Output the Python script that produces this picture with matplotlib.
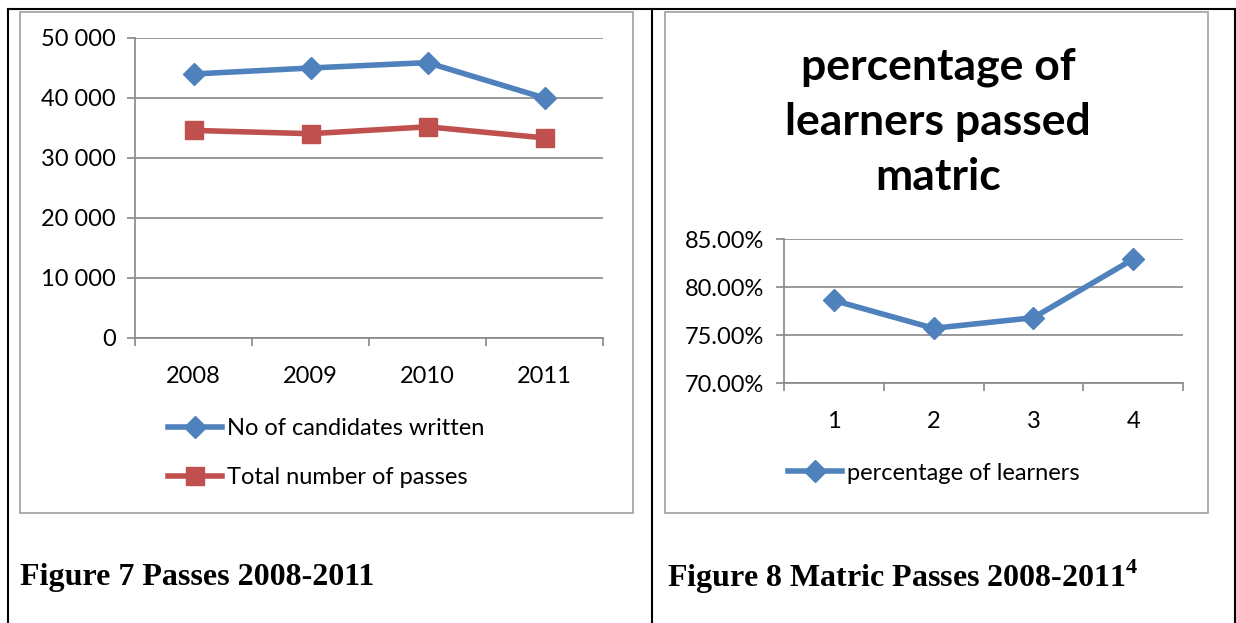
import numpy as np
import matplotlib
matplotlib.use("Agg")
import matplotlib.pyplot as plt
from matplotlib.patches import Rectangle
from matplotlib.lines import Line2D

# data
years = ["2008", "2009", "2010", "2011"]
written = [44000, 45000, 45900, 40000]
passes = [34600, 34050, 35200, 33350]

pct_labels = ["1", "2", "3", "4"]
pct_passed = [78.6, 75.7, 76.8, 82.9]

blue = "#4F81BD"
red = "#C0504D"
grey = "#878787"

W, H = 1236, 623
fig = plt.figure(figsize=(W / 100, H / 100), dpi=100)
plt.rcParams['font.family'] = ['Lato', 'DejaVu Sans']
plt.rcParams['mathtext.fontset'] = 'custom'
plt.rcParams['mathtext.bf'] = 'Liberation Serif:bold'
plt.rcParams['mathtext.rm'] = 'Liberation Serif'


def box(x0, y0, x1, y1):
    # pixel box (top-left origin) -> figure fraction
    return [x0 / W, 1 - y1 / H, (x1 - x0) / W, (y1 - y0) / H]


def fx(x):
    return x / W


def fy(y):
    return 1 - y / H


# table lines
for xs, ys in [([8, 1236], [9, 9]), ([8, 8], [9, 623]), ([652, 652], [9, 623]),
               ([1235, 1235], [9, 623])]:
    fig.add_artist(Line2D([fx(v) for v in xs], [fy(v) for v in ys], color="black", lw=1.5))

# chart frames
for x0, y0, x1, y1 in [(20, 12, 633, 513), (665, 12, 1208, 513)]:
    b = box(x0, y0, x1, y1)
    fig.add_artist(Rectangle((b[0], b[1]), b[2], b[3], transform=fig.transFigure,
                             fill=False, edgecolor="#A0A0A0", lw=1.2))


def style_axes(ax, fs, xpad):
    for s in ["top", "right"]:
        ax.spines[s].set_visible(False)
    for s in ["left", "bottom"]:
        ax.spines[s].set_color(grey)
        ax.spines[s].set_linewidth(1.2)
    ax.grid(axis="y", color=grey, lw=1.2)
    ax.set_axisbelow(True)
    ax.set_xlim(0.5, 4.5)
    ax.set_xticks([1, 2, 3, 4])
    ax.set_xticks([0.5, 1.5, 2.5, 3.5, 4.5], minor=True)
    ax.tick_params(axis="x", which="major", length=0, labelsize=fs, pad=xpad)
    ax.tick_params(axis="x", which="minor", length=6, color=grey, width=1.2)
    ax.tick_params(axis="y", length=6, color=grey, width=1.2, labelsize=fs, pad=8)


# left chart
ax1 = fig.add_axes(box(135, 38, 603, 338))
x = np.arange(1, 5)
l1, = ax1.plot(x, written, color=blue, lw=4, marker="D", ms=11, label="No of candidates written")
l2, = ax1.plot(x, passes, color=red, lw=4, marker="s", ms=13, label="Total number of passes")
ax1.set_ylim(0, 50000)
ax1.set_yticks([0, 10000, 20000, 30000, 40000, 50000])
ax1.set_yticklabels(["0", "10 000", "20 000", "30 000", "40 000", "50 000"])
ax1.set_xticklabels(years)
style_axes(ax1, 17, 20)

fig.legend(handles=[l1, l2], loc="center left", bbox_to_anchor=(fx(168), fy(453)),
           frameon=False, fontsize=17, handlelength=2.3, handletextpad=0.2,
           labelspacing=1.2, borderaxespad=0, borderpad=0)

# right chart
ax2 = fig.add_axes(box(784, 239, 1183, 383))
l3, = ax2.plot(x, pct_passed, color=blue, lw=4, marker="D", ms=11, label="percentage of learners")
ax2.set_ylim(70, 85)
ax2.set_yticks([70, 75, 80, 85])
ax2.set_yticklabels(["70.00%", "75.00%", "80.00%", "85.00%"])
ax2.set_xticklabels(pct_labels)
style_axes(ax2, 17, 20)

fig.text(fx(938), fy(122), "percentage of\nlearners passed\nmatric", ha="center", va="center",
         fontsize=32, fontweight="bold", linespacing=1.45)

fig.legend(handles=[l3], loc="center left", bbox_to_anchor=(fx(788), fy(473)),
           frameon=False, fontsize=17, handlelength=2.3, handletextpad=0.2,
           borderaxespad=0, borderpad=0)

# captions
fig.text(fx(20), fy(577), "Figure 7 Passes 2008-2011", ha="left", va="center",
         fontsize=23, fontweight="bold", family="Liberation Serif")
fig.text(fx(667), fy(577), "Figure 8 Matric Passes 2008-2011$^{\\mathbf{4}}$", ha="left", va="center",
         fontsize=23, fontweight="bold", family="Liberation Serif")

fig.savefig("out.png", dpi=100)
